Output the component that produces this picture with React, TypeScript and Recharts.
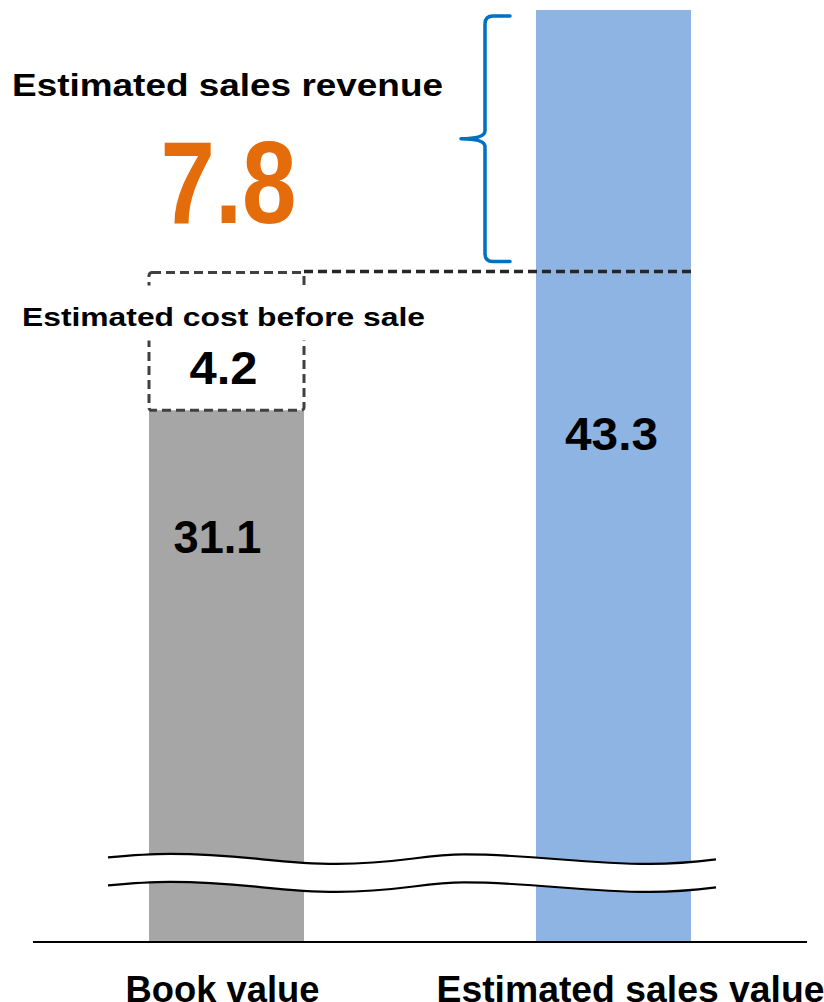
import { BarChart, Bar, XAxis, YAxis, Cell, LabelList, ReferenceLine, ReferenceArea } from "recharts";

// ─── DATA ─────────────────────────────────────────────────────────────────────

const CATEGORIES = ["Book value", "Estimated sales value"];
const BASE_VALUES = [31.1, 43.3];
const COST_VALUES = [4.2, 0];
const COST_LABEL = "Estimated cost before sale";
const REVENUE = 7.8;
const REVENUE_LABEL = "Estimated sales revenue";
const Y_DOMAIN: [number, number] = [14.9, 43.3];
const BREAK_VALUE = 17.05; // axis break drawn across the bars

// ─── STYLE ────────────────────────────────────────────────────────────────────

const FONT = "'Liberation Sans', Arial, Helvetica, sans-serif";
const BAR_COLORS = ["#A6A6A6", "#8EB4E3"];
const BAR_SIZE = 155;
const BRACE_COLOR = "#0070C0";
const ORANGE = "#E46C0A";

// per-bar label tweaks: distance from bar top to baseline, text width
const VALUE_LABEL = [
    { dy: 143, dx: -9, len: 88 },
    { dy: 440, dx: -2, len: 93 },
];
const TICK_STYLE = [
    { dx: -4, len: 194 },
    { dx: 17, len: 388 },
];

const data = CATEGORIES.map((name, i) => ({
    name,
    base: BASE_VALUES[i],
    cost: COST_VALUES[i],
}));

const COST_TOP = BASE_VALUES[0] + COST_VALUES[0];

// ─── SHAPES ───────────────────────────────────────────────────────────────────

function DashedBox(props: any) {
    const { x, y, width, height } = props;
    if (!height || height <= 0) return <g />;
    return (
        <rect
            x={x} y={y} width={width} height={height} rx={3}
            fill="none" stroke="#404040" strokeWidth={3} strokeDasharray="9 5"
        />
    );
}

function ValueLabel(props: any) {
    const { x, y, width, value, index } = props;
    const s = VALUE_LABEL[index];
    return (
        <text
            x={x + width / 2 + s.dx} y={y + s.dy}
            textAnchor="middle" fontFamily={FONT} fontWeight={700} fontSize={47}
            fill="#000" textLength={s.len} lengthAdjust="spacingAndGlyphs"
        >
            {value}
        </text>
    );
}

function CostLabel(props: any) {
    const { x, y, width, value, index } = props;
    if (!value || index !== 0) return null;
    const cx = x + width / 2;
    return (
        <g>
            <rect x={cx - 212} y={y + 13} width={420} height={55} fill="#fff" />
            <text
                x={cx - 3} y={y + 53} textAnchor="middle" fontFamily={FONT} fontWeight={700}
                fontSize={26} fill="#000" textLength={403} lengthAdjust="spacingAndGlyphs"
            >
                {COST_LABEL}
            </text>
            <text
                x={cx - 3} y={y + 111} textAnchor="middle" fontFamily={FONT} fontWeight={700}
                fontSize={47} fill="#000" textLength={68} lengthAdjust="spacingAndGlyphs"
            >
                {value}
            </text>
        </g>
    );
}

function DashedConnector(props: any) {
    const { x1, y1, x2, y2 } = props;
    return (
        <line
            x1={x1 + BAR_SIZE / 2} y1={y1 - 1} x2={x2 + BAR_SIZE / 2} y2={y2 - 1}
            stroke="#262626" strokeWidth={3.5} strokeDasharray="9 5"
        />
    );
}

// brace spanning the revenue gap, with the revenue label to its left
function Brace(props: any) {
    const { x, y, width, height } = props;
    const barLeft = x + width / 2 - BAR_SIZE / 2;
    const top = y + 6;
    const bottom = y + height - 11;
    const mid = (top + bottom) / 2;
    const vx = barLeft - 51;
    const r = 8;
    const d = [
        `M${vx + 25},${top}`,
        `L${vx + r},${top}`,
        `Q${vx},${top} ${vx},${top + r}`,
        `L${vx},${mid - r}`,
        `Q${vx},${mid} ${vx - 24},${mid}`,
        `Q${vx},${mid} ${vx},${mid + r}`,
        `L${vx},${bottom - r}`,
        `Q${vx},${bottom} ${vx + r},${bottom}`,
        `L${vx + 25},${bottom}`,
    ].join(" ");
    const leftCenter = x + width / 2 - width; // center of the first category
    return (
        <g>
            <path d={d} fill="none" stroke={BRACE_COLOR} strokeWidth={3.5} strokeLinecap="round" strokeLinejoin="round" />
            <text
                x={leftCenter + 1} y={96} textAnchor="middle" fontFamily={FONT} fontWeight={700}
                fontSize={32} fill="#000" textLength={431} lengthAdjust="spacingAndGlyphs"
            >
                {REVENUE_LABEL}
            </text>
            <text
                x={leftCenter + 2} y={223} textAnchor="middle" fontFamily={FONT} fontWeight={700}
                fontSize={116} fill={ORANGE} textLength={136} lengthAdjust="spacingAndGlyphs"
            >
                {REVENUE}
            </text>
        </g>
    );
}

function wave(x0: number, y0: number) {
    return [
        `M${x0},${y0}`,
        `C${x0 + 22},${y0 - 2} ${x0 + 42},${y0 - 3.5} ${x0 + 62},${y0 - 3.5}`,
        `C${x0 + 140},${y0 - 3.5} ${x0 + 165},${y0 + 6.5} ${x0 + 229},${y0 + 6.5}`,
        `C${x0 + 290},${y0 + 6.5} ${x0 + 315},${y0 - 3} ${x0 + 356},${y0 - 3}`,
        `C${x0 + 430},${y0 - 3} ${x0 + 470},${y0 + 6.5} ${x0 + 542},${y0 + 6.5}`,
        `C${x0 + 572},${y0 + 6.5} ${x0 + 592},${y0 + 4} ${x0 + 608},${y0 + 2}`,
    ].join(" ");
}

function AxisBreak(props: any) {
    const { x1, y1 } = props;
    const x0 = x1 + 75;
    return (
        <g>
            <path d={wave(x0, y1)} fill="none" stroke="#fff" strokeWidth={28} />
            <path d={wave(x0, y1 - 14)} fill="none" stroke="#000" strokeWidth={2.2} />
            <path d={wave(x0, y1 + 14)} fill="none" stroke="#000" strokeWidth={2.2} />
        </g>
    );
}

function CategoryTick(props: any) {
    const { x, y, payload, index } = props;
    const s = TICK_STYLE[index] ?? { dx: 0, len: undefined };
    return (
        <text
            x={x + s.dx} y={y + 60} textAnchor="middle" fontFamily={FONT} fontWeight={700}
            fontSize={37} fill="#000" textLength={s.len} lengthAdjust="spacingAndGlyphs"
        >
            {payload.value}
        </text>
    );
}

// ─── CHART ────────────────────────────────────────────────────────────────────

export default function App() {
    return (
        <div style={{ position: "absolute", left: 0, top: 0, width: 824, height: 1002, background: "#fff", overflow: "hidden" }}>
            <BarChart width={824} height={1002} data={data} margin={{ top: 10, right: 17, bottom: 0, left: 33 }} barCategoryGap={0}>
                <XAxis
                    dataKey="name" height={60} tickLine={false} tickSize={0} tickMargin={0}
                    axisLine={{ stroke: "#000", strokeWidth: 2 }} tick={<CategoryTick />} interval={0}
                />
                <YAxis hide type="number" domain={Y_DOMAIN} allowDataOverflow />
                <Bar dataKey="base" stackId="s" barSize={BAR_SIZE} isAnimationActive={false}>
                    {data.map((_, i) => (
                        <Cell key={i} fill={BAR_COLORS[i]} />
                    ))}
                    <LabelList dataKey="base" content={<ValueLabel />} />
                </Bar>
                <Bar dataKey="cost" stackId="s" barSize={BAR_SIZE} shape={<DashedBox />} isAnimationActive={false}>
                    <LabelList dataKey="cost" content={<CostLabel />} />
                </Bar>
                <ReferenceLine
                    segment={[{ x: CATEGORIES[0], y: COST_TOP }, { x: CATEGORIES[1], y: COST_TOP }]}
                    shape={<DashedConnector />}
                />
                <ReferenceArea
                    x1={CATEGORIES[1]} x2={CATEGORIES[1]} y1={COST_TOP} y2={BASE_VALUES[1]}
                    shape={<Brace />}
                />
                <ReferenceLine y={BREAK_VALUE} shape={<AxisBreak />} />
            </BarChart>
        </div>
    );
}
